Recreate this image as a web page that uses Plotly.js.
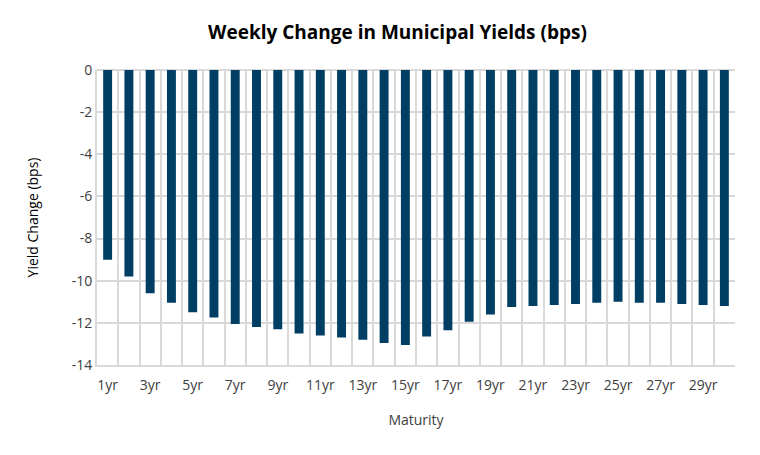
<!DOCTYPE html>
<html>
<head>
<meta charset="utf-8">
<script src="https://cdn.plot.ly/plotly-3.0.1.min.js"></script>
<style>html,body{margin:0;padding:0;background:#fff;}#chart{width:760px;height:455px;}</style>
</head>
<body>
<div id="chart"></div>
<script>
const maturities = ["1yr","2yr","3yr","4yr","5yr","6yr","7yr","8yr","9yr","10yr","11yr","12yr","13yr","14yr","15yr","16yr","17yr","18yr","19yr","20yr","21yr","22yr","23yr","24yr","25yr","26yr","27yr","28yr","29yr","30yr"];
const yieldChange = [-9.0,-9.8,-10.6,-11.05,-11.5,-11.75,-12.05,-12.2,-12.3,-12.5,-12.6,-12.7,-12.8,-12.95,-13.05,-12.65,-12.35,-11.95,-11.6,-11.25,-11.2,-11.15,-11.1,-11.05,-11.0,-11.05,-11.05,-11.1,-11.15,-11.2];
const tickLabels = ["1yr","","3yr","","5yr","","7yr","","9yr","","11yr","","13yr","","15yr","","17yr","","19yr","","21yr","","23yr","","25yr","","27yr","","29yr",""];
const yTickVals = [0,-2,-4,-6,-8,-10,-12,-14];
const yTickText = ["0","-2","-4","-6","-8","-10","-12","-14"];

const fontFam = "Open Sans, Liberation Sans, sans-serif";
const trace = {
  type: "bar",
  x: maturities,
  y: yieldChange,
  marker: {color: "#003f63"},
  hoverinfo: "x+y"
};
const layout = {
  width: 760, height: 455,
  margin: {l: 97, r: 25, t: 70, b: 90},
  paper_bgcolor: "#fff", plot_bgcolor: "#fff",
  bargap: 0.58,
  showlegend: false,
  title: {text: "<b>Weekly Change in Municipal Yields (bps)</b>", x: 0.523, xanchor: "center", y: 0.93, yanchor: "middle",
          font: {family: fontFam, size: 19, color: "#000"}},
  xaxis: {
    type: "category",
    tickmode: "array", tickvals: maturities, ticktext: tickLabels, tickangle: 0,
    tickson: "boundaries", ticks: "", ticklabelstandoff: 6,
    showgrid: true, gridcolor: "#d9d9d9", gridwidth: 2,
    showline: true, linecolor: "#d9d9d9", linewidth: 2, mirror: false,
    tickfont: {family: fontFam, size: 14, color: "#404040"},
    title: {text: "Maturity", font: {family: fontFam, size: 14, color: "#404040"}, standoff: 22},
    fixedrange: true
  },
  yaxis: {
    range: [-14, 0], tickmode: "array", tickvals: yTickVals, ticktext: yTickText,
    showgrid: true, gridcolor: "#d9d9d9", gridwidth: 2,
    zeroline: true, zerolinecolor: "#d9d9d9", zerolinewidth: 2,
    showline: true, linecolor: "#d9d9d9", linewidth: 2,
    ticks: "", ticklen: 0,
    tickfont: {family: fontFam, size: 14, color: "#404040"},
    title: {text: "Yield Change (bps)", font: {family: fontFam, size: 14, color: "#000"}, standoff: 30},
    fixedrange: true
  }
};
Plotly.newPlot("chart", [trace], layout, {displayModeBar: false, staticPlot: true});
</script>
</body>
</html>
